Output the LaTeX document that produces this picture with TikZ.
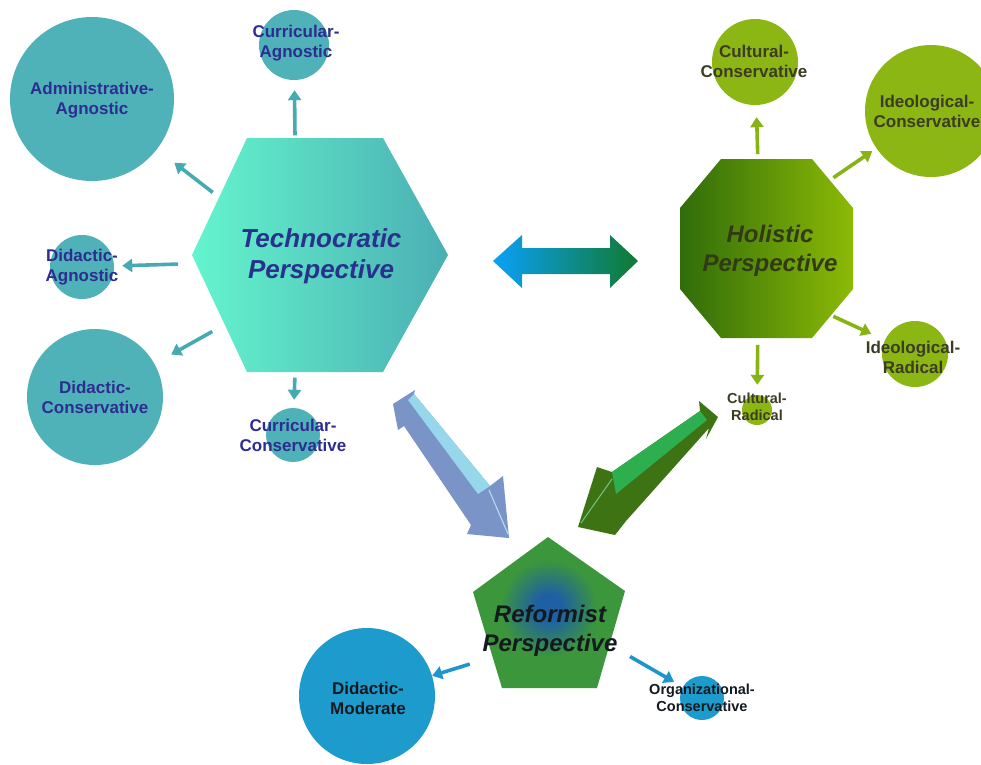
\documentclass[tikz,border=0pt]{standalone}
\usepackage{fontspec}
\setmainfont{Liberation Sans}
\usetikzlibrary{arrows.meta}
\definecolor{tealc}{RGB}{80,178,185}
\definecolor{hexL}{RGB}{100,245,205}
\definecolor{hexR}{RGB}{75,175,180}
\definecolor{tealtxt}{RGB}{45,45,145}
\definecolor{techtxt}{RGB}{40,50,140}
\definecolor{tarrc}{RGB}{70,170,178}
\definecolor{greenc}{RGB}{140,182,20}
\definecolor{octL}{RGB}{48,108,10}
\definecolor{octR}{RGB}{140,186,5}
\definecolor{greentxt}{RGB}{60,60,35}
\definecolor{holtxt}{RGB}{50,58,20}
\definecolor{garrc}{RGB}{135,180,20}
\definecolor{bluec}{RGB}{30,155,205}
\definecolor{barrc}{RGB}{30,150,205}
\definecolor{pentG}{RGB}{60,150,60}
\definecolor{pentC}{RGB}{30,95,165}
\definecolor{reftxt}{RGB}{20,25,30}
\definecolor{dblL}{RGB}{10,160,248}
\definecolor{dblR}{RGB}{16,122,48}
\definecolor{bigBd}{RGB}{122,148,200}
\definecolor{bigBl}{RGB}{150,215,235}
\definecolor{bigGd}{RGB}{62,115,20}
\definecolor{bigGl}{RGB}{45,175,80}
\pgfdeclareradialshading{pentshade}{\pgfpoint{0bp}{2bp}}{color(0bp)=(pentC); color(4bp)=(pentC); color(16bp)=(pentG); color(25bp)=(pentG); color(50bp)=(pentG)}
\begin{document}
\begin{tikzpicture}[x=1pt,y=-1pt,
  circ/.style={circle, inner sep=0pt, draw=none, minimum size=#1},
  hub/.style={circle, inner sep=0pt, draw=none, minimum size=#1},
  lbl/.style={align=center, inner sep=0pt, font=\bfseries\fontsize{17}{20}\selectfont},
  slbl/.style={align=center, inner sep=0pt, font=\bfseries\fontsize{14.5}{17.5}\selectfont},
  titlebig/.style={align=center, inner sep=0pt, font=\bfseries\itshape\fontsize{26}{31}\selectfont},
  titlesm/.style={align=center, inner sep=0pt, font=\bfseries\itshape\fontsize{24}{29}\selectfont},
  tarr/.style={draw=tarrc, line width=3.6pt, -{Triangle[length=10pt,width=13pt]}},
  garr/.style={draw=garrc, line width=3.6pt, -{Triangle[length=10pt,width=13pt]}},
  barr/.style={draw=barrc, line width=3.6pt, -{Triangle[length=10pt,width=13pt]}}
]
\useasboundingbox (0,0) rectangle (981,764);
\fill[white] (0,0) rectangle (981,764);

% ---------- shapes ----------
\shade[left color=hexL, right color=hexR]
  (247,138) -- (383,138) -- (448,255) -- (383,372) -- (247,372) -- (192,255) -- cycle;
\shade[left color=octL, right color=octR]
  (721,159) -- (812,159) -- (853,208) -- (853,289) -- (812,338) -- (721,338) -- (680,289) -- (680,208) -- cycle;
\shade[shading=pentshade]
  (548,537) -- (625,591) -- (597,688) -- (502,688) -- (473,592) -- cycle;

% double arrow
\shade[left color=dblL, right color=dblR]
  (493,261) -- (522,235) -- (522,248) -- (610,248) -- (610,235) -- (638,261)
  -- (610,288) -- (610,274) -- (522,274) -- (522,288) -- cycle;

% big blue 3D arrow
\fill[bigBd] (393,404) -- (415,390) -- (414,394) -- (490,486) -- (503,476) -- (509,538)
  -- (467,534) -- (471,525) -- (404,426) -- (398,430) -- cycle;
\fill[bigBl] (408,400) -- (414,394) -- (490,486) -- (478,494) -- cycle;
\draw[bigBl!70!white, line width=1pt] (489,490) -- (508,534);

% big green 3D arrow
\fill[bigGd] (578,527) -- (597,467) -- (612,472) -- (700,411) -- (699,401) -- (718,417)
  -- (706,439) -- (709,428) -- (626,521) -- (615,535) -- cycle;
\fill[bigGl] (612,472) -- (700,411) -- (707,420) -- (616,494) -- cycle;
\draw[bigGl!70!white, line width=1pt] (581,523) -- (612,479);

% ---------- hubs ----------
\node[hub=240pt] (tech) at (320,255) {};
\node[hub=190pt] (hol) at (766,249) {};
\node[hub=180pt] (ref) at (549,617) {};
\node[titlebig, text=techtxt] (tech-t) at (321,256) {Technocratic\\Perspective};
\node[titlesm, text=holtxt] (hol-t) at (770,251) {Holistic\\Perspective};
\node[titlesm, text=reftxt] (ref-t) at (550,631) {Reformist\\Perspective};

% ---------- teal circles ----------
\node[circ=164pt, fill=tealc] (adm) at (92,99) {};
\node[circ=70pt, fill=tealc] (curag) at (294,45) {};
\node[circ=64pt, fill=tealc] (didag) at (82,267) {};
\node[circ=136pt, fill=tealc] (didcons) at (95,397) {};
\node[circ=54pt, fill=tealc] (curcons) at (293,435) {};
\node[lbl, text=tealtxt] (adm-t) at (92,100) {Administrative-\\Agnostic};
\node[lbl, text=tealtxt] (curag-t) at (296,43) {Curricular-\\Agnostic};
\node[lbl, text=tealtxt] (didag-t) at (82,267) {Didactic-\\Agnostic};
\node[lbl, text=tealtxt] (didcons-t) at (95,397) {Didactic-\\Conservative};
\node[lbl, text=tealtxt] (curcons-t) at (293,435) {Curricular-\\Conservative};

% ---------- green circles ----------
\node[circ=86pt, fill=greenc] (culcons) at (755,62) {};
\node[circ=132pt, fill=greenc] (idcons) at (931,111) {};
\node[circ=66pt, fill=greenc] (idrad) at (915,354) {};
\node[circ=30pt, fill=greenc] (culrad) at (757,410) {};
\node[lbl, text=greentxt] (culcons-t) at (754,61) {Cultural-\\Conservative};
\node[lbl, text=greentxt] (idcons-t) at (927,111) {Ideological-\\Conservative};
\node[lbl, text=greentxt] (idrad-t) at (913,357) {Ideological-\\Radical};
\node[slbl, text=greentxt] (culrad-t) at (757,407) {Cultural-\\Radical};

% ---------- blue circles ----------
\node[circ=136pt, fill=bluec] (didmod) at (367,696) {};
\node[circ=44pt, fill=bluec] (orgcons) at (702,698) {};
\node[lbl, text=reftxt] (didmod-t) at (368,698) {Didactic-\\Moderate};
\node[slbl, text=reftxt] (orgcons-t) at (702,698) {Organizational-\\Conservative};

% ---------- connectors ----------
\draw[tarr, shorten <=2pt, shorten >=10pt] (tech.102) -- (curag);
\draw[tarr, shorten <=4pt, shorten >=22pt] (tech.150) -- (adm);
\draw[tarr, shorten <=22pt, shorten >=8pt] (tech.184) -- (didag);
\draw[tarr, shorten <=12pt, shorten >=19pt] (tech.216) -- (didcons);
\draw[tarr, shorten <=5pt, shorten >=8pt] (tech.258) -- (curcons);

\draw[garr, shorten >=12pt] (hol.95) -- (culcons);
\draw[garr, shorten <=3pt, shorten >=5pt] (hol.47) -- (idcons);
\draw[garr, shorten >=15pt] (hol.315) -- (idrad);
\draw[garr, shorten <=1pt, shorten >=10pt] (hol.265) -- (culrad);

\draw[barr, shorten <=2pt, shorten >=0pt] (ref.211) -- (didmod);
\draw[barr, shorten >=10pt] (ref.334) -- (orgcons);
\end{tikzpicture}
\end{document}
